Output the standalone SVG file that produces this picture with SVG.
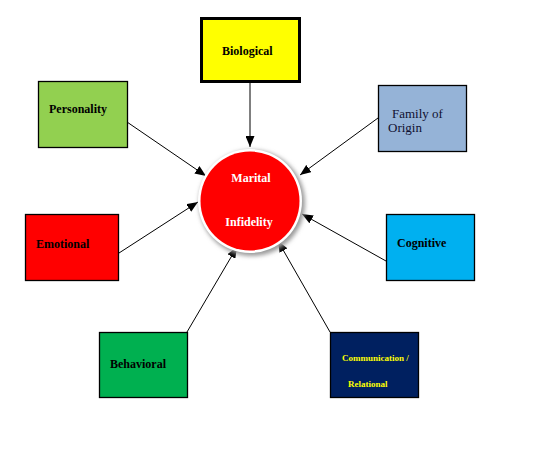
<svg xmlns="http://www.w3.org/2000/svg" width="549" height="463" viewBox="0 0 549 463">
<style>
.box{stroke:#000;stroke-width:1.3}
.lbl{font-family:"Liberation Serif","Times New Roman",serif;font-size:12px;font-weight:bold;fill:#000}
.conn line{stroke:#000;stroke-width:1;marker-end:url(#ah)}
</style>
<defs>
<marker id="ah" markerUnits="userSpaceOnUse" markerWidth="11" markerHeight="9" refX="11" refY="4.5" orient="auto">
<path d="M0,0 L11,4.5 L0,9 z" fill="#000"/>
</marker>
<filter id="sh" x="-30%" y="-30%" width="160%" height="160%">
<feGaussianBlur stdDeviation="2"/>
</filter>
</defs>
<rect width="549" height="463" fill="#fff"/>
<g id="connectors" class="conn">
<line x1="250" y1="83" x2="250" y2="147"/>
<line x1="127" y1="122" x2="206" y2="176"/>
<line x1="378" y1="118" x2="300" y2="175"/>
<line x1="119" y1="253" x2="198" y2="202"/>
<line x1="386" y1="261" x2="302" y2="214"/>
<line x1="187" y1="332" x2="237" y2="247"/>
<line x1="330" y1="332" x2="278" y2="241"/>
</g>
<g id="center">
<circle cx="252" cy="203" r="53" fill="#9a9a9a" filter="url(#sh)"/>
<circle cx="250" cy="201" r="52" fill="#fff"/>
<circle cx="250" cy="201" r="49.5" fill="#f00"/>
<text class="lbl" x="251" y="182" text-anchor="middle" fill="#fff" style="fill:#fff">Marital</text>
<text class="lbl" x="249" y="226" text-anchor="middle" style="fill:#fff">Infidelity</text>
</g>
<g id="biological">
<rect x="201.5" y="18.5" width="98" height="63" fill="#ff0" stroke="#000" stroke-width="3"/>
<text class="lbl" x="222" y="55">Biological</text>
</g>
<g id="personality">
<rect class="box" x="38.5" y="81.5" width="89" height="66" fill="#92d050"/>
<text class="lbl" x="49" y="113">Personality</text>
</g>
<g id="family">
<rect class="box" x="378.5" y="85.5" width="88" height="66" fill="#95b3d7"/>
<text class="lbl" x="392" y="118" style="font-weight:normal;font-size:13px;fill:#101030">Family of</text>
<text class="lbl" x="388" y="132" style="font-weight:normal;font-size:13px;fill:#101030">Origin</text>
</g>
<g id="emotional">
<rect class="box" x="25.5" y="214.5" width="93" height="66" fill="#f00"/>
<text class="lbl" x="36" y="248">Emotional</text>
</g>
<g id="cognitive">
<rect class="box" x="386.5" y="214.5" width="88" height="66" fill="#00b0f0"/>
<text class="lbl" x="397" y="247">Cognitive</text>
</g>
<g id="behavioral">
<rect class="box" x="99.5" y="332.5" width="88" height="65" fill="#00b050"/>
<text class="lbl" x="110" y="368">Behavioral</text>
</g>
<g id="communication">
<rect class="box" x="330.5" y="332.5" width="88" height="65" fill="#002060"/>
<text class="lbl" x="342" y="361" style="font-size:9px;fill:#ffff00">Communication /</text>
<text class="lbl" x="348" y="387" style="font-size:9px;fill:#ffff00">Relational</text>
</g>
</svg>
